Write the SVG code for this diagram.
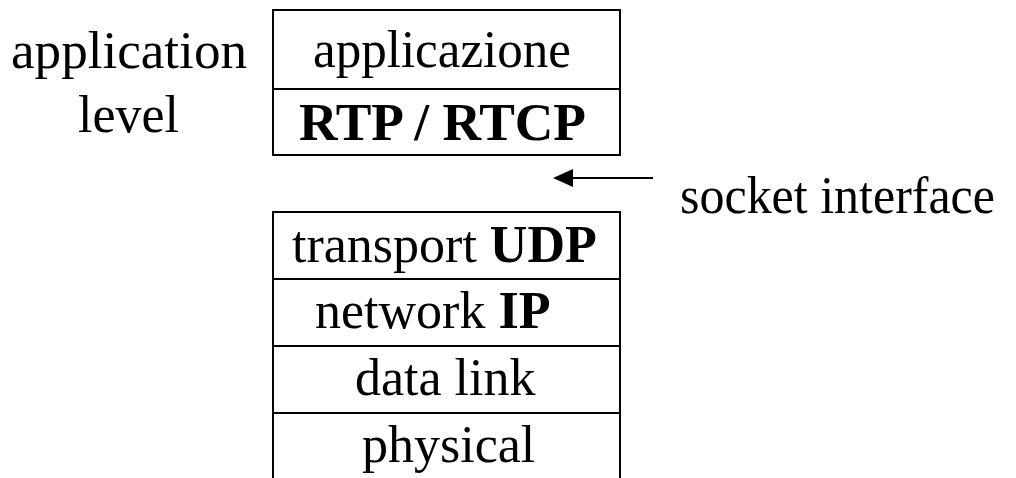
<svg xmlns="http://www.w3.org/2000/svg" width="1016" height="478" viewBox="0 0 1016 478">
  <style>
    .box { fill: none; stroke: #000; stroke-width: 2; }
    .lbl { font-family: "Liberation Serif", "Times New Roman", serif; font-size: 52px; fill: #000; }
    .b { font-weight: bold; }
  </style>

  <rect width="1016" height="478" fill="#fff"/>

  <!-- side labels -->
  <g id="app-level-label">
    <text class="lbl" x="11" y="68" textLength="236" lengthAdjust="spacingAndGlyphs">application</text>
    <text class="lbl" x="78" y="132">level</text>
  </g>
  <g id="socket-label">
    <text class="lbl" x="680" y="213" textLength="315" lengthAdjust="spacingAndGlyphs">socket interface</text>
  </g>

  <!-- upper stack: application layers -->
  <g id="app-stack">
    <rect class="box" x="273" y="10" width="347" height="145"/>
    <line class="box" x1="273" y1="89" x2="620" y2="89"/>
    <text class="lbl" x="313" y="67" textLength="258" lengthAdjust="spacingAndGlyphs">applicazione</text>
    <text class="lbl b" x="299" y="140" textLength="287" lengthAdjust="spacingAndGlyphs">RTP / RTCP</text>
  </g>

  <!-- lower stack: transport and below -->
  <g id="net-stack">
    <path class="box" d="M273,478 V212 H620 V478"/>
    <line class="box" x1="273" y1="279" x2="620" y2="279"/>
    <line class="box" x1="273" y1="346" x2="620" y2="346"/>
    <line class="box" x1="273" y1="413" x2="620" y2="413"/>
    <text class="lbl" x="292" y="262">transport <tspan class="b">UDP</tspan></text>
    <text class="lbl" x="315" y="328">network <tspan class="b">IP</tspan></text>
    <text class="lbl" x="355" y="395">data link</text>
    <text class="lbl" x="362" y="462">physical</text>
  </g>

  <!-- connectors -->
  <g id="connectors">
    <line x1="653" y1="178" x2="573" y2="178" stroke="#000" stroke-width="2"/>
    <path d="M553,178 L573,169 L573,187 Z" fill="#000"/>
  </g>
</svg>
